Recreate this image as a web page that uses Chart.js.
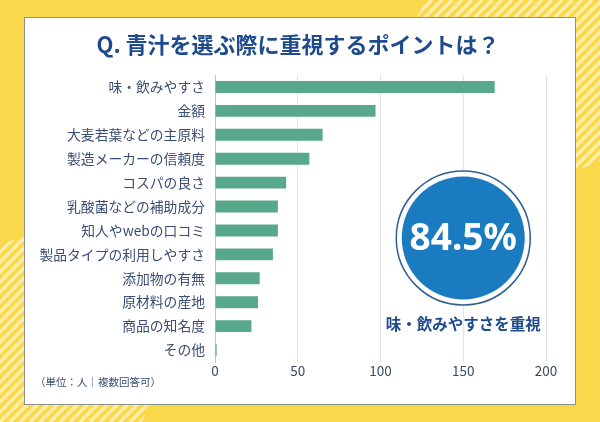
<!DOCTYPE html>
<html>
<head>
<meta charset="utf-8">
<script src="https://cdn.jsdelivr.net/npm/chart.js@4"></script>
<style>
  html, body { margin: 0; padding: 0; background: #f9d84b; }
  canvas { display: block; }
</style>
</head>
<body>
<canvas id="chart" width="600" height="422"></canvas>
<script>
const categories = [
    "味・飲みやすさ",
    "金額",
    "大麦若葉などの主原料",
    "製造メーカーの信頼度",
    "コスパの良さ",
    "乳酸菌などの補助成分",
    "知人やwebの口コミ",
    "製品タイプの利用しやすさ",
    "添加物の有無",
    "原材料の産地",
    "商品の知名度",
    "その他",
];
const counts = [169, 97, 65, 57, 43, 38, 38, 35, 27, 26, 22, 1];
const xMax = 200;
const xStep = 50;

const titleText = "Q. 青汁を選ぶ際に重視するポイントは？";
const highlightValue = "84.5%";
const highlightLabel = "味・飲みやすさを重視";
const noteText = "（単位：人｜複数回答可）";

const JP = '"Noto Sans CJK JP", "Noto Sans", sans-serif';
const NAVY = "#1f4b8e";
const LABEL = "#3a4d72";

function stripes(ctx, poly) {
    ctx.save();
    ctx.beginPath();
    poly.forEach(([x, y], i) => (i ? ctx.lineTo(x, y) : ctx.moveTo(x, y)));
    ctx.closePath();
    ctx.clip();
    ctx.strokeStyle = "#fcedac";
    ctx.lineWidth = 3.6;
    for (let k = -600; k < 1200; k += 10) {
        ctx.beginPath();
        ctx.moveTo(k, 422);
        ctx.lineTo(k + 422, 0);
        ctx.stroke();
    }
    ctx.restore();
}

const decor = {
    id: "decor",
    beforeDraw(chart) {
        const ctx = chart.ctx;
        ctx.save();
        ctx.fillStyle = "#f9d84b";
        ctx.fillRect(0, 0, 600, 422);
        stripes(ctx, [[426, 0], [600, 0], [600, 161], [576, 171], [410, 30]]);
        stripes(ctx, [[0, 244], [26, 236], [150, 404], [142, 422], [0, 422]]);
        ctx.fillStyle = "#ffffff";
        ctx.fillRect(24.5, 17.5, 551, 387);
        ctx.strokeStyle = "#8a908a";
        ctx.lineWidth = 1;
        ctx.strokeRect(24.5, 17.5, 551, 387);
        ctx.restore();
    },
    afterDraw(chart) {
        const ctx = chart.ctx;
        ctx.save();
        ctx.textAlign = "center";
        ctx.textBaseline = "middle";
        ctx.fillStyle = NAVY;
        ctx.font = "bold 22px " + JP;
        ctx.fillText(titleText, 298, 45);

        // highlight badge
        const cx = chart.scales.x.getPixelForValue(150);
        const cy = 238;
        ctx.beginPath();
        ctx.arc(cx, cy, 67, 0, Math.PI * 2);
        ctx.fillStyle = "#ffffff";
        ctx.fill();
        ctx.strokeStyle = "#2e5f8f";
        ctx.lineWidth = 1.5;
        ctx.stroke();
        ctx.beginPath();
        ctx.arc(cx, cy, 61.5, 0, Math.PI * 2);
        ctx.fillStyle = "#1a7bc0";
        ctx.fill();
        ctx.fillStyle = "#ffffff";
        ctx.font = 'bold 37px "Noto Sans", sans-serif';
        ctx.fillText(highlightValue, cx, cy + 1);
        ctx.fillStyle = NAVY;
        ctx.font = "bold 15.5px " + JP;
        ctx.fillText(highlightLabel, cx, 324);

        ctx.textAlign = "left";
        ctx.fillStyle = LABEL;
        ctx.font = "10.5px " + JP;
        ctx.fillText(noteText, 35, 382);
        ctx.restore();
    },
};

new Chart(document.getElementById("chart"), {
    type: "bar",
    data: {
        labels: categories,
        datasets: [
            {
                data: counts,
                backgroundColor: "#58a98c",
                barPercentage: 0.5,
                categoryPercentage: 1,
            },
        ],
    },
    options: {
        indexAxis: "y",
        responsive: false,
        animation: false,
        layout: { padding: { top: 75, right: 54, left: 0, bottom: 0 } },
        plugins: { legend: { display: false }, tooltip: { enabled: false } },
        scales: {
            x: {
                min: 0,
                max: xMax,
                ticks: {
                    stepSize: xStep,
                    padding: 1,
                    color: "#3a4a62",
                    font: { family: JP, size: 13.5 },
                },
                grid: { color: "#e4e4e4", drawTicks: false },
                border: { display: false },
                afterFit(scale) {
                    scale.height = 60;
                },
            },
            y: {
                ticks: {
                    padding: 10,
                    color: LABEL,
                    font: { family: JP, size: 13.8 },
                },
                grid: { display: false, drawTicks: false },
                border: { display: true, color: "#c4c4c4" },
                afterFit(scale) {
                    scale.width = 215;
                },
            },
        },
    },
    plugins: [decor],
});
</script>
</body>
</html>
